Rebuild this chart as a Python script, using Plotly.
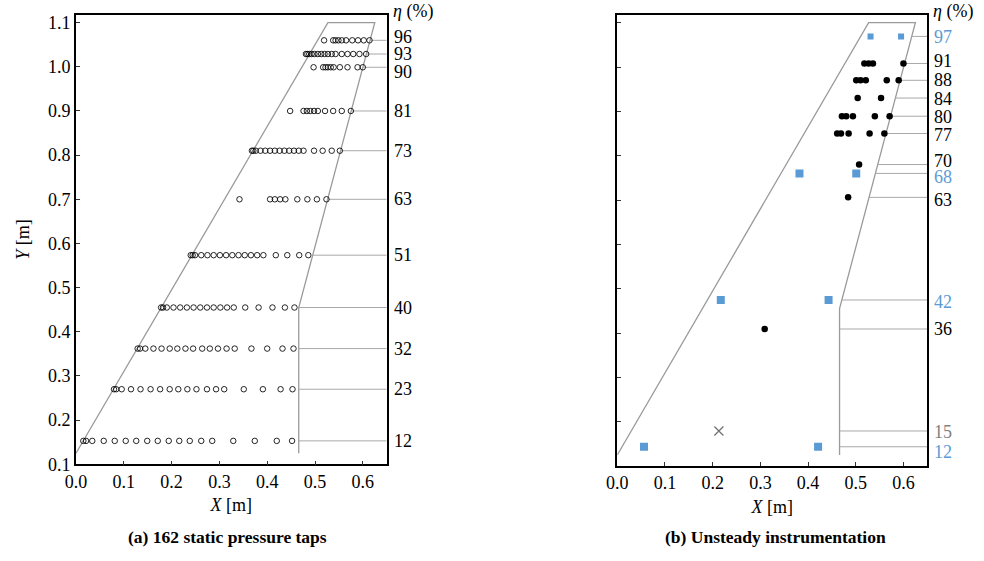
import numpy as np
import plotly.graph_objects as go

# ---------------- blade outline (shared by both panels) ----------------
outline_x = [0.0, 0.527, 0.625, 0.466, 0.466]
outline_y = [0.125, 1.100, 1.100, 0.455, 0.125]

# ---------------- (a) static pressure taps ----------------
tap_eta = [96, 93, 90, 81, 73, 63, 51, 40, 32, 23, 12]
tap_y = [1.060, 1.029, 0.999, 0.900, 0.810, 0.700, 0.5735, 0.455, 0.362, 0.270, 0.153]
tap_label_y = [1.067, 1.030, 0.989, 0.900, 0.810, 0.700, 0.5735, 0.455, 0.362, 0.270, 0.153]
tap_x = [
    [0.519, 0.538, 0.543, 0.549, 0.556, 0.565, 0.578, 0.590, 0.602, 0.614],
    [0.481, 0.484, 0.488, 0.493, 0.499, 0.506, 0.513, 0.520, 0.527, 0.535,
     0.543, 0.556, 0.568, 0.580, 0.593, 0.607],
    [0.497, 0.517, 0.522, 0.527, 0.533, 0.539, 0.552, 0.568, 0.589, 0.600],
    [0.448, 0.476, 0.483, 0.490, 0.498, 0.506, 0.521, 0.538, 0.556, 0.575],
    [0.368, 0.371, 0.376, 0.386, 0.396, 0.406, 0.416, 0.426, 0.436, 0.446,
     0.456, 0.466, 0.476, 0.498, 0.516, 0.535, 0.552],
    [0.342, 0.406, 0.416, 0.427, 0.438, 0.463, 0.484, 0.504, 0.524],
    [0.240, 0.244, 0.249, 0.262, 0.275, 0.288, 0.301, 0.314, 0.327, 0.340,
     0.353, 0.366, 0.379, 0.392, 0.418, 0.442, 0.467, 0.486],
    [0.178, 0.182, 0.190, 0.204, 0.218, 0.232, 0.246, 0.260, 0.274, 0.288,
     0.302, 0.316, 0.330, 0.354, 0.382, 0.411, 0.437, 0.457],
    [0.129, 0.134, 0.145, 0.162, 0.179, 0.196, 0.212, 0.229, 0.245, 0.264,
     0.280, 0.297, 0.315, 0.332, 0.367, 0.400, 0.432, 0.455],
    [0.0795, 0.084, 0.0956, 0.115, 0.135, 0.156, 0.176, 0.196, 0.214, 0.233,
     0.252, 0.274, 0.293, 0.310, 0.351, 0.391, 0.428, 0.453],
    [0.0153, 0.021, 0.034, 0.058, 0.081, 0.104, 0.126, 0.149, 0.171, 0.194,
     0.216, 0.238, 0.262, 0.285, 0.329, 0.374, 0.420, 0.452],
]

# ---------------- (b) unsteady instrumentation ----------------
dot_y = [1.008, 0.970, 0.930, 0.889, 0.850, 0.780, 0.706, 0.409]
dot_x = [
    [0.518, 0.527, 0.536, 0.600],
    [0.501, 0.510, 0.521, 0.565, 0.590],
    [0.504, 0.553],
    [0.471, 0.480, 0.494, 0.540, 0.571],
    [0.461, 0.469, 0.485, 0.529, 0.560],
    [0.507],
    [0.484],
    [0.309],
]
square_y = [1.069, 0.760, 0.4745, 0.1434]
square_x = [[0.531, 0.595], [0.382, 0.501], [0.217, 0.443], [0.056, 0.421]]
square_size = [6, 8, 8, 8]
cross_x = [0.213]
cross_y = [0.179]

probe_eta = [97, 91, 88, 84, 80, 77, 70, 68, 63, 42, 36, 15, 12]
probe_line_y = [1.069, 1.008, 0.970, 0.930, 0.889, 0.850, 0.780, 0.760, 0.706,
                0.4745, 0.409, 0.179, 0.1434]
probe_label_y = [1.068, 1.013, 0.970, 0.928, 0.888, 0.846, 0.787, 0.751, 0.700,
                 0.470, 0.409, 0.176, 0.131]
probe_kind = ["sq", "dot", "dot", "dot", "dot", "dot", "dot", "sq", "dot",
              "sq", "dot", "x", "sq"]

BLUE = "#5b9bd5"
LINE_GRAY = "#a8a8a8"
EDGE_GRAY = "#9a9a9a"
kind_color = {"sq": BLUE, "dot": "#000000", "x": "#808080"}
X_MAX = 0.65
Y_RANGE = [0.1, 1.118]
SERIF = "Liberation Serif, Times New Roman, serif"


def trailing_edge_x(y):
    # the trailing edge runs (0.625,1.10) -> (0.466,0.455) -> vertical down
    return float(np.interp(y, [outline_y[3], outline_y[2]], [outline_x[3], outline_x[2]]))


fig = go.Figure()

for xa, ya in (("x", "y"), ("x2", "y2")):
    fig.add_trace(go.Scatter(x=outline_x, y=outline_y, mode="lines",
                             line=dict(color=EDGE_GRAY, width=1.3),
                             xaxis=xa, yaxis=ya, hoverinfo="skip"))

# guide lines from trailing edge to the frame
for y in tap_y:
    fig.add_trace(go.Scatter(x=[trailing_edge_x(y), X_MAX], y=[y, y], mode="lines",
                             line=dict(color=LINE_GRAY, width=1),
                             xaxis="x", yaxis="y", hoverinfo="skip"))
for y in probe_line_y:
    fig.add_trace(go.Scatter(x=[trailing_edge_x(y), X_MAX], y=[y, y], mode="lines",
                             line=dict(color=LINE_GRAY, width=1),
                             xaxis="x2", yaxis="y2", hoverinfo="skip"))

# static pressure taps
for y, xs in zip(tap_y, tap_x):
    fig.add_trace(go.Scatter(x=xs, y=[y] * len(xs), mode="markers",
                             marker=dict(symbol="circle-open", size=5.5,
                                         color="black", line=dict(width=0.85)),
                             xaxis="x", yaxis="y"))

# unsteady probes
for y, xs in zip(dot_y, dot_x):
    fig.add_trace(go.Scatter(x=xs, y=[y] * len(xs), mode="markers",
                             marker=dict(symbol="circle", size=6.5, color="black"),
                             xaxis="x2", yaxis="y2"))
for y, xs, s in zip(square_y, square_x, square_size):
    fig.add_trace(go.Scatter(x=xs, y=[y] * len(xs), mode="markers",
                             marker=dict(symbol="square", size=s, color=BLUE),
                             xaxis="x2", yaxis="y2"))
fig.add_trace(go.Scatter(x=cross_x, y=cross_y, mode="markers",
                         marker=dict(symbol="x-thin-open", size=9, color="#707070",
                                     line=dict(color="#707070", width=1.2)),
                         xaxis="x2", yaxis="y2"))

annotations = []
for eta, y in zip(tap_eta, tap_label_y):
    annotations.append(dict(xref="x domain", yref="y", x=1.0, y=y, text=str(eta),
                            xanchor="left", yanchor="middle", xshift=5, showarrow=False,
                            font=dict(family=SERIF, size=18, color="black")))
for eta, y, k in zip(probe_eta, probe_label_y, probe_kind):
    annotations.append(dict(xref="x2 domain", yref="y2", x=1.0, y=y, text=str(eta),
                            xanchor="left", yanchor="middle", xshift=5, showarrow=False,
                            font=dict(family=SERIF, size=18, color=kind_color[k])))
for xr in ("x domain", "x2 domain"):
    annotations.append(dict(xref=xr, yref="paper", x=1.0, y=0.980, text="<i>η</i> (%)",
                            xanchor="left", yanchor="middle", xshift=4, showarrow=False,
                            font=dict(family=SERIF, size=18, color="black")))
annotations.append(dict(xref="paper", yref="paper", x=227 / 984, y=1 - 537 / 561,
                        text="<b>(a) 162 static pressure taps</b>", showarrow=False,
                        xanchor="center", yanchor="middle",
                        font=dict(family=SERIF, size=17.5, color="black")))
annotations.append(dict(xref="paper", yref="paper", x=775 / 984, y=1 - 537 / 561,
                        text="<b>(b) Unsteady instrumentation</b>", showarrow=False,
                        xanchor="center", yanchor="middle",
                        font=dict(family=SERIF, size=17.5, color="black")))

axis_common = dict(showgrid=False, zeroline=False, showline=True, mirror=True,
                   automargin=False,
                   linecolor="black", linewidth=1.6, ticks="inside", ticklen=4,
                   tickcolor="#333", tickwidth=1,
                   tickfont=dict(family=SERIF, size=18, color="black"))

xticks = [0.0, 0.1, 0.2, 0.3, 0.4, 0.5, 0.6]
yticks = [0.1, 0.2, 0.3, 0.4, 0.5, 0.6, 0.7, 0.8, 0.9, 1.0, 1.1]

fig.update_layout(
    template="none",
    width=984, height=561, showlegend=False,
    margin=dict(l=0, r=0, t=0, b=0),
    paper_bgcolor="white", plot_bgcolor="white",
    annotations=annotations,
    xaxis=dict(axis_common, domain=[76 / 984, 386.7 / 984], range=[0, X_MAX],
               tickvals=xticks, tickformat=".1f", anchor="y",
               title=dict(text="<i>X</i> [m]", standoff=8,
                          font=dict(family=SERIF, size=18, color="black"))),
    yaxis=dict(axis_common, domain=[1 - 464.3 / 561, 1 - 14.7 / 561], range=Y_RANGE,
               tickvals=yticks, tickformat=".1f", anchor="x",
               title=dict(text="<i>Y</i> [m]", standoff=14,
                          font=dict(family=SERIF, size=18, color="black"))),
    xaxis2=dict(axis_common, domain=[617.3 / 984, 927.3 / 984], range=[0, X_MAX],
                tickvals=xticks, tickformat=".1f", anchor="y2",
                title=dict(text="<i>X</i> [m]", standoff=8,
                           font=dict(family=SERIF, size=18, color="black"))),
    yaxis2=dict(axis_common, domain=[1 - 466 / 561, 1 - 14.7 / 561], range=Y_RANGE,
                tickvals=yticks, showticklabels=False, anchor="x2"),
)

fig.write_html("out.html")
